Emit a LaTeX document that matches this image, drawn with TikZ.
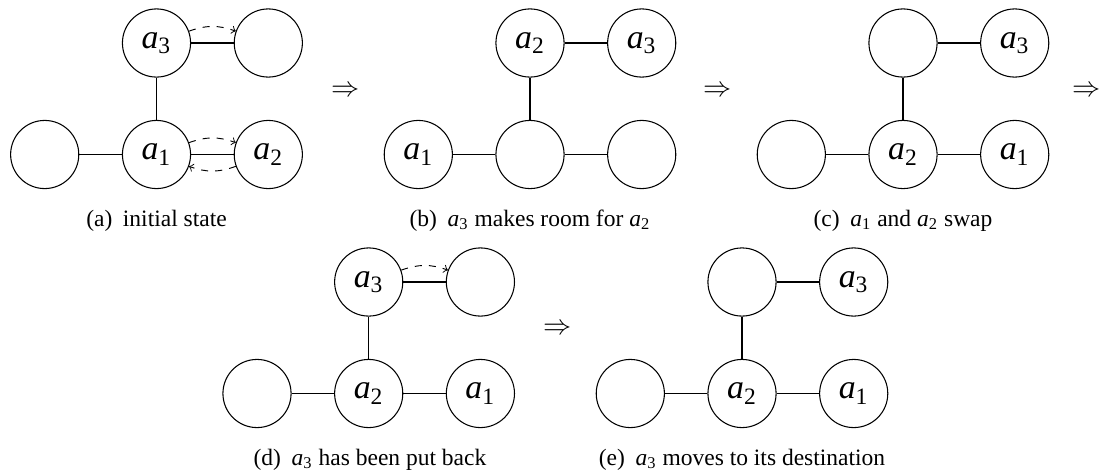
\documentclass[tikz,border=0pt]{standalone}
\usepackage{fontspec}
\setmainfont{Liberation Serif}
\newcommand{\ai}[1]{\textit{a}\textsubscript{#1}}
\tikzset{
  st/.style={circle,draw,line width=0.45pt,minimum size=29pt,inner sep=0pt,font=\Large},
  ln/.style={line width=0.45pt},
  mv/.style={->,dashed,line width=0.4pt,bend left=20},
  captext/.style={anchor=base,font=\normalsize},
  imp/.style={font=\fontsize{11.5}{14}\selectfont,inner sep=0pt}
}
\begin{document}
\begin{tikzpicture}[x=0.4255pt,y=-0.4255pt]
\useasboundingbox (0,0) rectangle (1101,472);
% (a)
\node[st] (aL) at (44.7,154.5) {};
\node[st] (aC) at (156.5,154.5) {\ai{1}};
\node[st] (aR) at (268.3,154.5) {\ai{2}};
\node[st] (aT) at (156.5,43) {\ai{3}};
\node[st] (aTR) at (268.3,43) {};
\draw[ln] (aL) -- (aC); \draw[ln] (aC) -- (aR); \draw[ln] (aC) -- (aT); \draw[ln] (aT) -- (aTR);
\draw[mv] (aT) to (aTR);
\draw[mv] (aC) to (aR);
\draw[mv] (aR) to (aC);
\node[captext] (capa) at (156.5,226) {(a)\hspace{4.5pt}initial state};
\node[imp] (ia) at (346,91) {$\Rightarrow$};
% (b)
\node[st] (bL) at (418.3,154.5) {\ai{1}};
\node[st] (bC) at (530,154.5) {};
\node[st] (bR) at (641.7,154.5) {};
\node[st] (bT) at (530,43) {\ai{2}};
\node[st] (bTR) at (641.7,43) {\ai{3}};
\draw[ln] (bL) -- (bC); \draw[ln] (bC) -- (bR); \draw[ln] (bC) -- (bT); \draw[ln] (bT) -- (bTR);
\node[captext] (capb) at (530,226) {(b)\hspace{4.5pt}\ai{3} makes room for \ai{2}};
\node[imp] (ib) at (718,91) {$\Rightarrow$};
% (c)
\node[st] (cL) at (791.3,154.5) {};
\node[st] (cC) at (903,154.5) {\ai{2}};
\node[st] (cR) at (1014.7,154.5) {\ai{1}};
\node[st] (cT) at (903,43) {};
\node[st] (cTR) at (1014.7,43) {\ai{3}};
\draw[ln] (cL) -- (cC); \draw[ln] (cC) -- (cR); \draw[ln] (cC) -- (cT); \draw[ln] (cT) -- (cTR);
\node[captext] (capc) at (903,226) {(c)\hspace{4.5pt}\ai{1} and \ai{2} swap};
\node[imp] (ic) at (1087,91) {$\Rightarrow$};
% (d)
\node[st] (dL) at (257,393.5) {};
\node[st] (dC) at (368.7,393.5) {\ai{2}};
\node[st] (dR) at (480.4,393.5) {\ai{1}};
\node[st] (dT) at (368.7,282) {\ai{3}};
\node[st] (dTR) at (480.4,282) {};
\draw[ln] (dL) -- (dC); \draw[ln] (dC) -- (dR); \draw[ln] (dC) -- (dT); \draw[ln] (dT) -- (dTR);
\draw[mv] (dT) to (dTR);
\node[captext] (capd) at (370,465) {(d)\hspace{4.5pt}\ai{3} has been put back};
\node[imp] (id) at (558,329) {$\Rightarrow$};
% (e)
\node[st] (eL) at (630.3,393.5) {};
\node[st] (eC) at (742,393.5) {\ai{2}};
\node[st] (eR) at (853.7,393.5) {\ai{1}};
\node[st] (eT) at (742,282) {};
\node[st] (eTR) at (853.7,282) {\ai{3}};
\draw[ln] (eL) -- (eC); \draw[ln] (eC) -- (eR); \draw[ln] (eC) -- (eT); \draw[ln] (eT) -- (eTR);
\node[captext] (cape) at (742,465) {(e)\hspace{4.5pt}\ai{3} moves to its destination};
\end{tikzpicture}
\end{document}
